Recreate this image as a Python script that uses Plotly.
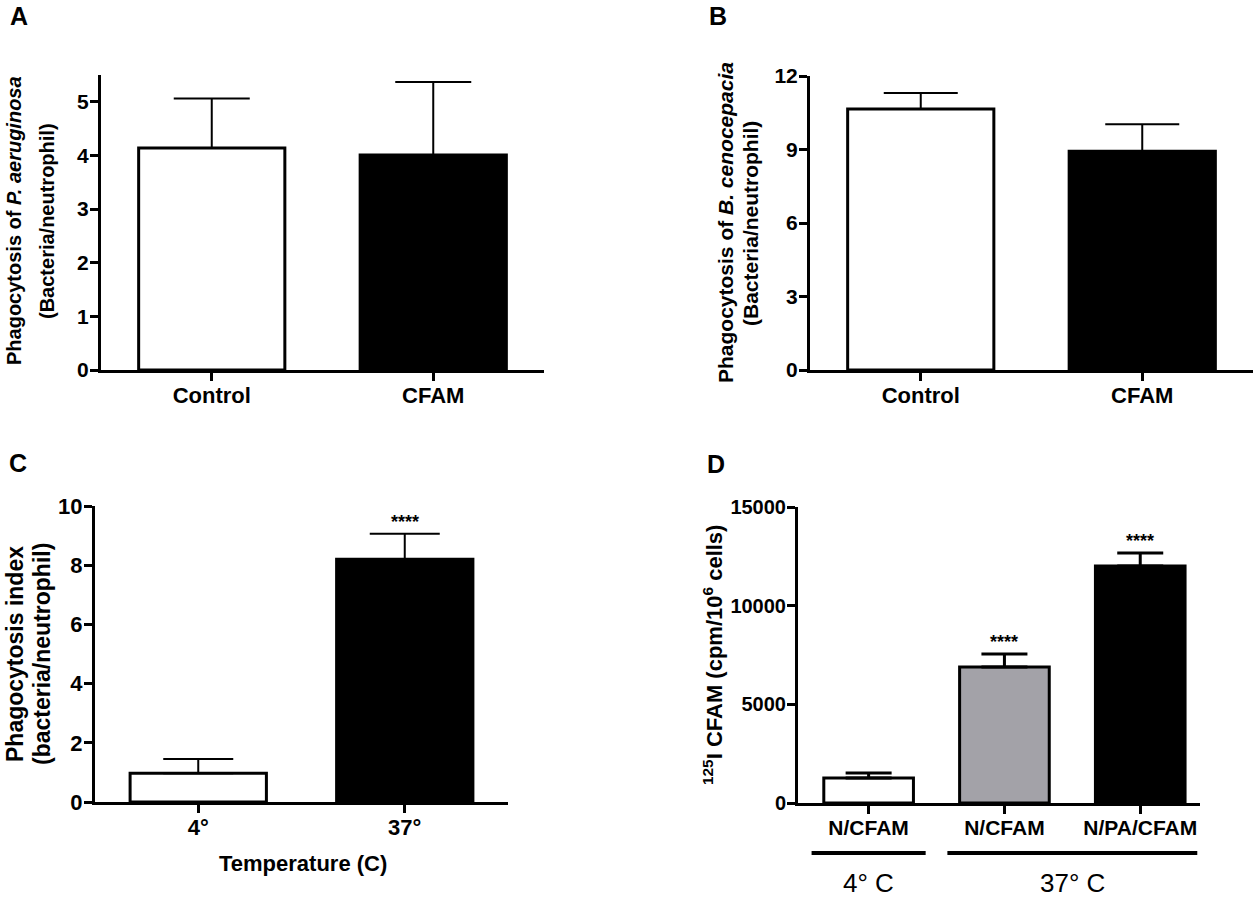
import plotly.graph_objects as go
from plotly.subplots import make_subplots

# panel A - P. aeruginosa
a_cats = ["Control", "CFAM"]
a_mean = [4.14, 4.01]
a_sem = [0.92, 1.36]

# panel B - B. cenocepacia
b_cats = ["Control", "CFAM"]
b_mean = [10.65, 8.93]
b_sem = [0.66, 1.10]

# panel C - temperature
c_cats = ["4°", "37°"]
c_mean = [0.97, 8.20]
c_sem = [0.48, 0.86]
c_sig = ["", "****"]

# panel D - 125I CFAM binding
d_cats = ["N/CFAM", "N/CFAM", "N/PA/CFAM"]
d_mean = [1270, 6890, 12010]
d_sem = [250, 660, 660]
d_sig = ["", "****", "****"]
d_groups = [("4° C", 0, 0), ("37° C", 1, 2)]

W, H = 1257, 897
FONT = "Liberation Sans, Arial, sans-serif"


def px(x):
    return x / W


def py(y):
    return 1 - y / H


fig = make_subplots(rows=2, cols=2)


def add_bars(row, col, cats, mean, sem, colors, cap, thick=2):
    fig.add_trace(
        go.Bar(
            x=list(range(len(cats))), y=mean, width=0.66,
            marker=dict(color=colors, line=dict(color="black", width=3)),
            error_y=dict(type="data", array=sem, arrayminus=[0] * len(sem), symmetric=False,
                         color="black", thickness=thick, width=cap),
            showlegend=False, hoverinfo="skip",
        ),
        row=row, col=col,
    )


add_bars(1, 1, a_cats, a_mean, a_sem, ["white", "black"], 38)
add_bars(1, 2, b_cats, b_mean, b_sem, ["white", "black"], 37)
add_bars(2, 1, c_cats, c_mean, c_sem, ["white", "black"], 35)
add_bars(2, 2, d_cats, d_mean, d_sem, ["white", "#a3a2a8", "black"], 23, thick=3)

axis_common = dict(showline=True, linewidth=3, linecolor="black", ticks="outside",
                   tickwidth=3, ticklen=8, tickcolor="black", showgrid=False,
                   zeroline=False, fixedrange=True, automargin=False)

# x axes: [domain pixels], range, categories, font size
xspec = {
    "xaxis": ((101, 544), [-0.5, 1.5], a_cats, 22),
    "xaxis2": ((810, 1253), [-0.5, 1.5], b_cats, 22),
    "xaxis3": ((95, 508), [-0.5, 1.5], c_cats, 22),
    "xaxis4": ((798, 1200), [-0.52, 2.44], d_cats, 21),
}
for name, (dom, rng, cats, fs) in xspec.items():
    fig.layout[name].update(
        domain=[px(dom[0]), px(dom[1])], range=rng,
        tickvals=list(range(len(cats))), ticktext=cats,
        tickfont=dict(family=FONT, size=fs, color="black", weight="bold"),
        ticklabelstandoff=-4,
        **axis_common,
    )

yspec = {
    "yaxis": ((75, 370), [0, 5.5], 1, 21),
    "yaxis2": ((76, 370), [0, 12], 3, 21),
    "yaxis3": ((506, 802), [0, 10], 2, 22),
    "yaxis4": ((507, 803), [0, 15000], 5000, 20),
}
for name, (dom, rng, dt, fs) in yspec.items():
    fig.layout[name].update(
        domain=[py(dom[1]), py(dom[0])], range=rng, dtick=dt, tick0=0,
        tickformat="d",
        tickfont=dict(family=FONT, size=fs, color="black", weight="bold"),
        ticklabelstandoff=-3,
        **axis_common,
    )

ann = []


def label(text, x, y, size, angle=0, bold=True):
    ann.append(dict(text=text, x=px(x), y=py(y), xref="paper", yref="paper",
                    showarrow=False, textangle=angle, xanchor="center", yanchor="middle",
                    font=dict(family=FONT, size=size, color="black",
                              weight="bold" if bold else "normal")))


# panel letters
label("A", 19, 16, 25)
label("B", 718, 16, 25)
label("C", 18, 463, 25)
label("D", 716, 464, 25)

# y axis titles
label("Phagocytosis of <i>P. aeruginosa</i>", 14, 221, 20, -90)
label("(Bacteria/neutrophil)", 47, 221, 20, -90)
label("Phagocytosis of <i>B. cenocepacia</i>", 725, 223, 21, -90)
label("(Bacteria/neutrophil)", 750, 223, 21, -90)
label("Phagocytosis index", 15, 654, 23, -90)
label("(bacteria/neutrophil)", 42, 654, 23, -90)
label("<sup>125</sup>I CFAM (cpm/10<sup>6</sup> cells)", 713, 655, 22, -90)

# x axis title for C
label("Temperature (C)", 303, 863, 22)

# significance stars
for xr, yr, sig, mean, sem in [("x3", "y3", c_sig, c_mean, c_sem), ("x4", "y4", d_sig, d_mean, d_sem)]:
    for i, s in enumerate(sig):
        if s:
            ann.append(dict(text=s, x=i, y=mean[i] + sem[i], xref=xr, yref=yr, showarrow=False,
                            xanchor="center", yanchor="bottom", yshift=0,
                            font=dict(family=FONT, size=18, color="black", weight="bold")))

# temperature groups under panel D
shapes = []
for name, i0, i1 in d_groups:
    shapes.append(dict(type="line", xref="x4", yref="paper", x0=i0 - 0.42, x1=i1 + 0.42,
                       y0=py(853), y1=py(853), line=dict(color="black", width=4)))
    ann.append(dict(text=name, x=(i0 + i1) / 2, y=py(883), xref="x4", yref="paper",
                    showarrow=False, xanchor="center", yanchor="middle",
                    font=dict(family=FONT, size=26, color="black")))

fig.update_layout(
    template="none",
    width=W, height=H,
    margin=dict(l=0, r=0, t=0, b=0, autoexpand=False),
    plot_bgcolor="white", paper_bgcolor="white",
    annotations=ann, shapes=shapes,
    bargap=0.3,
)

fig.write_html("out.html", config={"displayModeBar": False},
               post_script="document.body.style.margin='0';")
